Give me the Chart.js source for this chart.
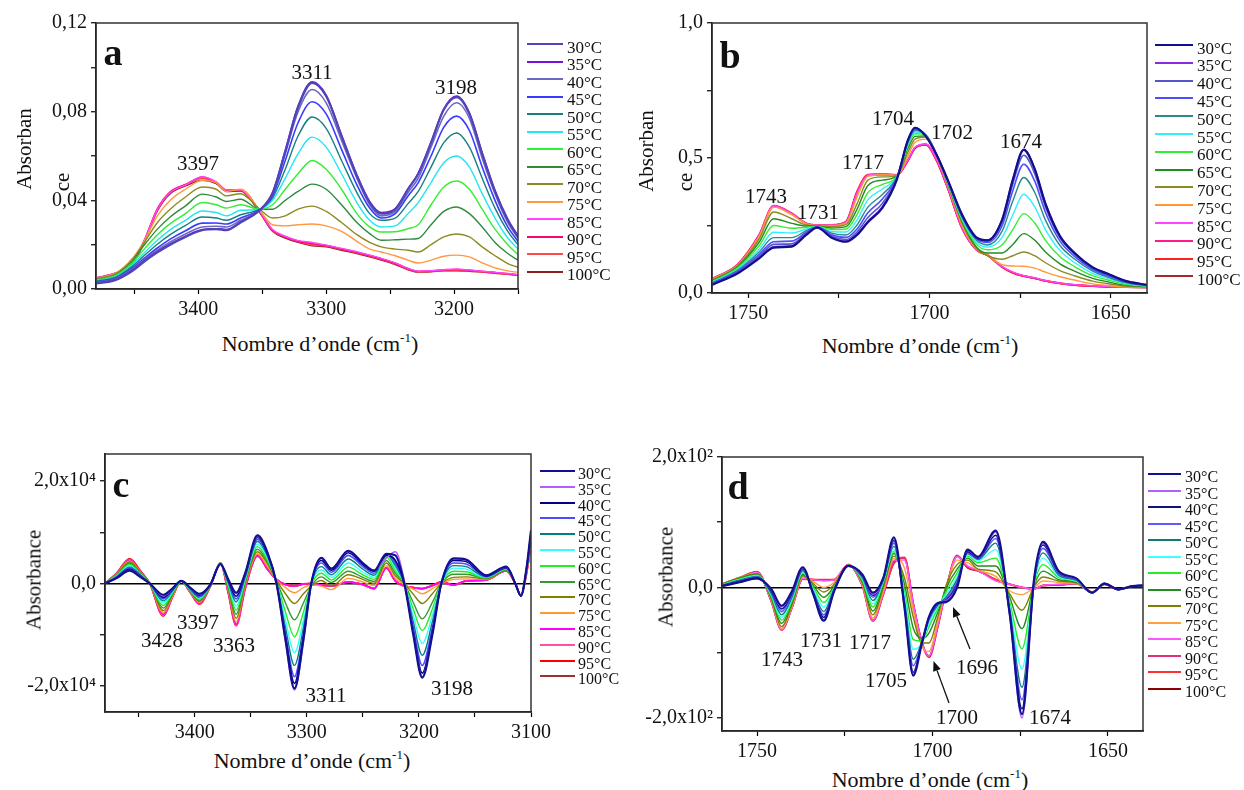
<!DOCTYPE html>
<html><head><meta charset="utf-8">
<script src="https://cdn.jsdelivr.net/npm/chart.js@4.4.1/dist/chart.umd.min.js"></script>
<style>
html,body{margin:0;padding:0;background:#fff;}
body{width:1244px;height:790px;position:relative;overflow:hidden;font-family:'Liberation Serif','Times New Roman',serif;color:#111;}
canvas{position:absolute;}
.t{position:absolute;white-space:nowrap;transform:translate(-50%,-50%);line-height:1;}
.r{transform:translate(-50%,-50%) rotate(-90deg);}
.lg{position:absolute;white-space:nowrap;line-height:1;color:#111;font-family:'Liberation Serif','Times New Roman',serif;}
.sw{position:absolute;height:2px;}
.ttl{font-size:22px;}
.pk{font-size:21px;}
.let{font-size:38px;font-weight:bold;}
sup{font-size:13px;vertical-align:0;position:relative;top:-9px;}
</style></head><body>
<canvas id="ca" width="525" height="325" style="left:0;top:0"></canvas>
<canvas id="cb" width="535" height="325" style="left:620px;top:0"></canvas>
<canvas id="cc" width="560" height="325" style="left:0;top:420px"></canvas>
<canvas id="cd" width="530" height="340" style="left:620px;top:420px"></canvas>

<div class="t let" style="left:113px;top:52px">a</div>
<div class="t let" style="left:730px;top:55px">b</div>
<div class="t let" style="left:121px;top:484px">c</div>
<div class="t let" style="left:738px;top:486px">d</div>

<div class="t r ttl" style="left:24px;top:149px;font-size:21px">Absorban</div>
<div class="t r ttl" style="left:62px;top:182px;font-size:21px">ce</div>
<div class="t r ttl" style="left:646px;top:151px;font-size:21px">Absorban</div>
<div class="t r ttl" style="left:685px;top:182px;font-size:21px">ce</div>
<div class="t r ttl" style="left:34px;top:580px;font-size:21px">Absorbance</div>
<div class="t r ttl" style="left:666px;top:577px;font-size:21px">Absorbance</div>

<div class="t ttl" style="left:320px;top:344px">Nombre d’onde (cm<sup>-1</sup>)</div>
<div class="t ttl" style="left:920px;top:346px">Nombre d’onde (cm<sup>-1</sup>)</div>
<div class="t ttl" style="left:312px;top:761px">Nombre d’onde (cm<sup>-1</sup>)</div>
<div class="t ttl" style="left:930px;top:780px">Nombre d’onde (cm<sup>-1</sup>)</div>

<div class="t pk" style="left:198px;top:163px">3397</div>
<div class="t pk" style="left:312px;top:72px">3311</div>
<div class="t pk" style="left:456px;top:87px">3198</div>

<div class="t pk" style="left:766px;top:196px">1743</div>
<div class="t pk" style="left:818px;top:212px">1731</div>
<div class="t pk" style="left:863px;top:162px">1717</div>
<div class="t pk" style="left:893px;top:118px">1704</div>
<div class="t pk" style="left:952px;top:132px">1702</div>
<div class="t pk" style="left:1021px;top:141px">1674</div>

<div class="t pk" style="left:162px;top:640px">3428</div>
<div class="t pk" style="left:198px;top:622px">3397</div>
<div class="t pk" style="left:234px;top:645px">3363</div>
<div class="t pk" style="left:326px;top:695px">3311</div>
<div class="t pk" style="left:452px;top:688px">3198</div>

<div class="t pk" style="left:782px;top:659px">1743</div>
<div class="t pk" style="left:821px;top:640px">1731</div>
<div class="t pk" style="left:870px;top:642px">1717</div>
<div class="t pk" style="left:886px;top:680px">1705</div>
<div class="t pk" style="left:957px;top:717px">1700</div>
<div class="t pk" style="left:977px;top:667px">1696</div>
<div class="t pk" style="left:1050px;top:717px">1674</div>

<svg width="1244" height="790" style="position:absolute;left:0;top:0;pointer-events:none">
<line x1="970" y1="649" x2="956.8" y2="616.3" stroke="#111" stroke-width="1.3"/>
<polygon points="953,607 960.5,614.8 953,617.8" fill="#111"/>
<line x1="949" y1="703" x2="937" y2="670.4" stroke="#111" stroke-width="1.3"/>
<polygon points="933.5,661 940.7,669 933.2,671.8" fill="#111"/>
</svg>

<script>
const temps = ['30°C','35°C','40°C','45°C','50°C','55°C','60°C','65°C','70°C','75°C','85°C','90°C','95°C','100°C'];

// ---------- Panel a : 3480-3150 cm-1, absorbance ----------
const aWave = [3480,3465,3452,3442,3432,3422,3410,3397,3386,3378,3367,3352,3342,3332,3322,3311,3300,3288,3276,3266,3257,3246,3236,3228,3218,3208,3198,3188,3178,3168,3158,3150];
const a30 = [.0025,.004,.008,.0125,.0165,.020,.0235,.0265,.027,.0265,.030,.0355,.043,.062,.082,.093,.087,.069,.051,.039,.034,.036,.045,.052,.066,.081,.0866,.079,.061,.044,.031,.0235];
const a35 = [.0027,.0042,.0083,.0128,.0168,.0203,.0238,.0268,.0272,.0268,.0302,.0356,.0435,.0625,.0825,.0935,.0875,.0695,.0515,.0395,.0345,.0363,.0452,.0522,.0662,.0812,.087,.0795,.0615,.0445,.0315,.024];
const a40 = [.003,.0045,.0088,.0133,.0175,.0212,.0248,.028,.0283,.028,.031,.0357,.043,.061,.080,.090,.084,.067,.050,.038,.033,.035,.0435,.050,.064,.078,.084,.077,.059,.043,.030,.023];
const a45 = [.0032,.0048,.0093,.014,.0185,.0225,.0263,.0297,.0298,.0293,.032,.0358,.042,.058,.075,.0845,.079,.063,.047,.0365,.032,.034,.042,.048,.060,.073,.078,.0715,.055,.040,.028,.0215];
const a50 = [.0035,.0052,.010,.0152,.0202,.0245,.0287,.0325,.032,.031,.0335,.036,.041,.054,.069,.0776,.0725,.058,.0435,.034,.031,.032,.0385,.044,.055,.066,.0704,.064,.050,.0365,.026,.020];
const a55 = [.0037,.0055,.0107,.0165,.022,.0267,.031,.0352,.0345,.033,.0355,.036,.040,.050,.061,.0685,.064,.052,.039,.031,.028,.0285,.034,.039,.048,.057,.060,.055,.043,.032,.023,.018];
const a60 = [.004,.006,.0115,.0182,.0245,.0295,.034,.039,.038,.0365,.038,.036,.038,.045,.052,.058,.054,.045,.034,.028,.0257,.0258,.0272,.029,.038,.046,.0487,.045,.036,.027,.020,.0155];
const a65 = [.0042,.0063,.0123,.020,.027,.0325,.0375,.0428,.0415,.0395,.0405,.036,.036,.040,.044,.0473,.045,.038,.030,.025,.022,.0222,.0225,.0228,.029,.035,.037,.034,.028,.021,.016,.013];
const a70 = [.0045,.0067,.013,.0212,.030,.036,.0415,.046,.045,.042,.043,.036,.032,.033,.036,.0374,.035,.030,.0245,.021,.019,.018,.0175,.0167,.020,.0235,.0248,.0235,.019,.015,.0115,.0098];
const a75 = [.0047,.007,.0135,.022,.033,.040,.045,.049,.048,.044,.045,.0355,.029,.0285,.029,.0293,.0285,.026,.0215,.018,.0167,.015,.013,.0117,.013,.0148,.0153,.0145,.0118,.0095,.0082,.0075];
const a85 = [.0048,.0072,.011,.0222,.0358,.0435,.047,.0505,.0483,.0447,.0448,.035,.0268,.0238,.0218,.021,.0198,.0183,.0168,.0153,.0138,.0118,.0093,.008,.0082,.0087,.009,.0085,.008,.0075,.007,.0065];
const a90 = [.0049,.0071,.0112,.0221,.036,.0437,.0471,.0505,.0481,.0446,.0448,.035,.0266,.0236,.0216,.0205,.0196,.0181,.0166,.0151,.0136,.0116,.0092,.0079,.0081,.0086,.0088,.0084,.0079,.0074,.0069,.0064];
const a95 = [.005,.007,.011,.022,.036,.0437,.047,.050,.048,.0445,.0447,.035,.0265,.0235,.0215,.020,.0195,.018,.0165,.015,.0135,.0115,.009,.0078,.008,.0085,.0086,.0083,.0078,.0073,.0068,.0063];
const a100 = [.0049,.0069,.0108,.0215,.0352,.043,.0465,.049,.0475,.044,.0442,.0345,.026,.023,.021,.0195,.019,.0175,.016,.0145,.013,.011,.0087,.0076,.0078,.0082,.0082,.008,.0076,.0071,.0066,.0061];
const aXTickVals = [3400,3300,3200];
const aXTickText = ['3400','3300','3200'];
const aYTickVals = [0,0.04,0.08,0.12];
const aYTickText = ['0,00','0,04','0,08','0,12'];

// ---------- Panel b : 1760-1640 cm-1, absorbance ----------
const bWave = [1760,1753,1747,1743,1738,1734,1731,1727,1723,1720,1717,1713,1709,1706,1704,1701,1698,1695,1691,1687,1684,1680,1677,1674,1671,1668,1664,1660,1655,1651,1646,1640];
const b30 = [.030,.072,.128,.168,.172,.215,.242,.205,.190,.215,.262,.315,.42,.565,.612,.58,.51,.42,.29,.205,.195,.27,.42,.53,.46,.33,.21,.148,.095,.072,.045,.030];
const b35 = [.031,.073,.130,.171,.175,.217,.243,.207,.192,.218,.266,.32,.422,.565,.613,.582,.512,.42,.29,.206,.196,.272,.423,.532,.462,.332,.212,.15,.096,.073,.046,.030];
const b40 = [.033,.076,.136,.180,.182,.221,.243,.211,.198,.226,.28,.332,.425,.562,.61,.583,.512,.418,.287,.203,.192,.262,.405,.51,.443,.318,.204,.144,.092,.069,.044,.029];
const b45 = [.035,.080,.143,.190,.192,.225,.244,.216,.206,.237,.297,.348,.428,.56,.607,.584,.512,.416,.284,.2,.187,.248,.38,.477,.415,.298,.192,.136,.087,.065,.042,.028];
const b50 = [.037,.084,.152,.205,.205,.231,.245,.222,.215,.252,.318,.365,.43,.555,.602,.585,.512,.414,.28,.195,.178,.228,.342,.428,.373,.27,.176,.126,.081,.060,.039,.027];
const b55 = [.039,.088,.162,.225,.222,.237,.246,.228,.226,.27,.345,.385,.432,.55,.596,.585,.512,.412,.275,.188,.17,.205,.29,.366,.32,.235,.157,.113,.073,.055,.036,.026];
const b60 = [.042,.092,.175,.25,.24,.243,.247,.235,.237,.29,.372,.402,.433,.543,.59,.585,.512,.41,.27,.18,.16,.178,.235,.294,.26,.195,.134,.098,.064,.049,.033,.025];
const b65 = [.044,.096,.188,.275,.258,.248,.248,.241,.246,.31,.398,.418,.434,.534,.58,.582,.51,.408,.265,.17,.148,.148,.18,.22,.196,.152,.108,.081,.054,.042,.029,.024];
const b70 = [.047,.100,.20,.30,.275,.252,.249,.246,.254,.33,.418,.43,.435,.52,.57,.578,.508,.405,.258,.165,.138,.125,.138,.152,.138,.112,.083,.064,.044,.035,.026,.023];
const b75 = [.05,.103,.21,.318,.29,.256,.25,.25,.26,.355,.432,.438,.436,.505,.558,.57,.505,.40,.25,.162,.14,.105,.1,.099,.092,.077,.06,.048,.034,.028,.023,.022];
const b85 = [.051,.104,.213,.322,.294,.258,.251,.251,.263,.37,.436,.44,.437,.492,.54,.552,.493,.392,.242,.16,.141,.098,.077,.064,.056,.046,.037,.031,.027,.024,.022,.021];
const b90 = [.052,.105,.215,.324,.295,.258,.252,.252,.264,.373,.437,.441,.437,.49,.538,.551,.492,.391,.241,.16,.14,.097,.076,.063,.055,.045,.036,.030,.026,.023,.022,.021];
const b95 = [.052,.105,.215,.322,.295,.258,.252,.252,.265,.375,.438,.44,.437,.49,.537,.55,.49,.39,.24,.16,.14,.097,.075,.063,.055,.045,.036,.030,.026,.023,.022,.021];
const b100 = [.051,.104,.213,.32,.293,.257,.251,.251,.264,.373,.436,.438,.436,.488,.535,.548,.488,.388,.238,.158,.139,.096,.074,.062,.054,.044,.035,.029,.025,.022,.021,.020];
const bXTickVals = [1750,1700,1650];
const bXTickText = ['1750','1700','1650'];
const bYTickVals = [0,0.5,1];
const bYTickText = ['0,0','0,5','1,0'];

// ---------- Panel c : 3480-3100 cm-1, second derivative (units of 1e4) ----------
const cWave = [3480,3470,3458,3448,3440,3428,3420,3412,3404,3396,3386,3377,3370,3363,3355,3344,3335,3327,3319,3311,3303,3296,3287,3278,3263,3250,3240,3229,3221,3213,3205,3197,3188,3180,3169,3158,3140,3122,3114,3109,3104,3100];
const c30 = [0,.1,.25,.12,0,-.22,-.1,.05,-.08,-.2,-.02,.38,.08,-.18,.2,.94,.6,0,-1.1,-2.05,-1.1,0,.5,.29,.64,.4,.25,.58,.55,0,-1,-1.84,-1,0,.49,.47,.16,.33,0,-.24,.3,1.04];
const c35 = [0,.1,.26,.13,0,-.24,-.11,.05,-.09,-.21,-.02,.38,.07,-.2,.19,.92,.6,0,-1.12,-2.08,-1.12,0,.5,.29,.63,.4,.26,.5,.62,.05,-.98,-1.82,-.98,0,.48,.46,.16,.32,0,-.24,.3,1.0];
const c40 = [0,.11,.28,.14,0,-.27,-.12,.05,-.09,-.23,-.02,.38,.05,-.25,.17,.9,.58,0,-1.05,-1.95,-1.05,0,.45,.26,.6,.37,.24,.55,.45,0,-.94,-1.75,-.94,0,.45,.43,.15,.31,0,-.24,.29,.98];
const c45 = [0,.12,.3,.15,0,-.3,-.13,.05,-.1,-.25,-.03,.38,.03,-.3,.15,.86,.56,0,-.98,-1.82,-.98,0,.4,.22,.55,.33,.2,.58,.4,0,-.86,-1.6,-.86,0,.4,.38,.14,.3,0,-.24,.28,.95];
const c50 = [0,.13,.32,.16,0,-.34,-.15,.05,-.11,-.27,-.03,.38,.01,-.36,.12,.82,.53,0,-.86,-1.6,-.86,0,.33,.17,.48,.28,.16,.57,.35,0,-.75,-1.4,-.75,0,.35,.33,.13,.3,0,-.24,.27,.92];
const c55 = [0,.14,.34,.17,0,-.38,-.17,.05,-.12,-.29,-.03,.39,-.02,-.44,.09,.77,.5,.02,-.72,-1.35,-.72,-.01,.27,.12,.4,.22,.12,.58,.3,0,-.63,-1.17,-.63,0,.3,.28,.12,.29,0,-.24,.27,.9];
const c60 = [0,.15,.37,.18,0,-.43,-.19,.05,-.13,-.31,-.04,.39,-.05,-.52,.06,.72,.45,.03,-.56,-1.04,-.56,-.03,.2,.07,.32,.17,.08,.52,.25,0,-.5,-.92,-.5,0,.24,.23,.11,.28,0,-.24,.26,.88];
const c65 = [0,.16,.4,.19,0,-.48,-.21,.05,-.14,-.33,-.04,.39,-.08,-.6,.03,.67,.42,.05,-.38,-.71,-.38,-.05,.13,.02,.24,.12,.04,.45,.2,0,-.37,-.69,-.37,0,.18,.18,.1,.27,0,-.24,.25,.85];
const c70 = [0,.17,.42,.2,0,-.53,-.23,.05,-.15,-.35,-.05,.4,-.11,-.68,0,.62,.38,.06,-.2,-.39,-.2,-.05,.06,-.05,.17,.08,0,.4,.15,0,-.21,-.39,-.2,0,.12,.13,.09,.26,0,-.24,.24,.83];
const c75 = [0,.18,.44,.21,0,-.57,-.25,.05,-.16,-.37,-.05,.4,-.14,-.75,-.04,.58,.33,.07,-.08,-.18,-.08,-.03,-.05,-.12,.1,.03,-.04,.35,.1,-.02,-.11,-.2,-.1,0,.08,.09,.08,.26,0,-.24,.23,.8];
const c85 = [0,.18,.46,.22,0,-.6,-.26,.05,-.17,-.39,-.05,.4,-.17,-.8,-.08,.55,.28,.08,-.02,-.05,-.01,0,-.03,-.05,.03,-.02,-.1,.3,.05,-.04,-.08,-.1,-.04,.02,-.03,.05,.07,.25,0,-.24,.22,.78];
const c90 = [0,.19,.47,.22,0,-.62,-.27,.05,-.17,-.4,-.05,.4,-.18,-.82,-.09,.55,.28,.08,-.02,-.05,-.01,0,-.03,-.05,.03,-.02,-.1,.3,.05,-.05,-.08,-.1,-.04,.02,-.03,.05,.07,.25,0,-.24,.21,.76];
const c95 = [0,.19,.48,.23,0,-.63,-.27,.05,-.17,-.4,-.05,.4,-.18,-.82,-.1,.55,.28,.08,-.02,-.05,-.01,0,-.03,-.05,.03,-.02,-.1,.31,.05,-.05,-.08,-.1,-.04,.03,-.03,.05,.07,.25,0,-.24,.2,.75];
const c100 = [0,.19,.48,.23,0,-.63,-.27,.05,-.17,-.39,-.05,.39,-.18,-.8,-.1,.53,.27,.08,-.02,-.04,-.01,0,-.03,-.05,.03,-.02,-.1,.3,.05,-.05,-.08,-.1,-.04,.03,-.03,.05,.07,.25,0,-.24,.2,.74];
const cXTickVals = [3400,3300,3200,3100];
const cXTickText = ['3400','3300','3200','3100'];
const cYTickVals = [-2,0,2];
const cYTickText = ['-2,0x10⁴','0,0','2,0x10⁴'];

// ---------- Panel d : 1760-1640 cm-1, second derivative (units of 1e2) ----------
const dWave = [1760,1755,1750,1746,1743,1740,1737,1734,1731,1728,1724,1720,1717,1714,1711,1708,1705.5,1703,1701,1698.5,1696,1693,1690,1687,1682,1678,1674.5,1671,1668.5,1664,1659,1654.5,1651,1647,1643,1640];
const d30 = [.02,.08,.14,-.02,-.28,-.05,.31,-.1,-.51,-.05,.33,.2,-.08,.15,.77,-.3,-1.35,-.85,-.45,-.24,-.22,0,.58,.47,.87,-.4,-1.94,.15,.7,.25,.14,-.08,.06,-.03,.02,.03];
const d35 = [.02,.08,.14,-.03,-.3,-.06,.3,-.1,-.5,-.05,.33,.19,-.1,.14,.75,-.3,-1.33,-.85,-.45,-.24,-.2,.02,.57,.46,.85,-.42,-2.0,.13,.68,.24,.13,-.08,.06,-.03,.02,.03];
const d40 = [.03,.09,.15,-.05,-.33,-.08,.29,-.09,-.46,-.04,.33,.18,-.12,.14,.72,-.28,-1.3,-.84,-.46,-.25,-.19,.05,.55,.45,.8,-.4,-1.86,.12,.65,.23,.13,-.08,.06,-.03,.02,.03];
const d45 = [.03,.1,.16,-.07,-.37,-.11,.28,-.08,-.42,-.03,.33,.17,-.15,.13,.68,-.25,-1.2,-.84,-.48,-.26,-.17,.08,.53,.44,.75,-.37,-1.72,.11,.6,.21,.12,-.08,.06,-.03,.02,.03];
const d50 = [.03,.11,.17,-.09,-.42,-.14,.26,-.06,-.37,-.02,.33,.15,-.2,.12,.63,-.2,-1.1,-.83,-.5,-.27,-.14,.12,.52,.43,.68,-.33,-1.53,.1,.53,.19,.11,-.08,.06,-.03,.02,.03];
const d55 = [.04,.12,.18,-.11,-.46,-.17,.24,-.03,-.3,-.01,.33,.13,-.25,.1,.58,-.12,-.95,-.85,-.55,-.29,-.1,.16,.5,.41,.58,-.28,-1.25,.08,.45,.17,.1,-.08,.06,-.03,.02,.03];
const d60 = [.04,.13,.19,-.13,-.5,-.2,.22,0,-.23,0,.34,.11,-.3,.08,.55,-.05,-.8,-.82,-.6,-.32,-.05,.22,.48,.38,.45,-.22,-.94,.06,.35,.15,.09,-.08,.06,-.03,.02,.03];
const d65 = [.05,.14,.2,-.15,-.55,-.23,.2,.03,-.15,.02,.34,.09,-.36,.04,.52,.05,-.62,-.78,-.7,-.38,0,.28,.45,.33,.33,-.15,-.63,.04,.25,.12,.08,-.08,.06,-.03,.02,.03];
const d70 = [.05,.15,.21,-.17,-.6,-.26,.18,.06,-.07,.05,.34,.07,-.42,0,.48,.15,-.45,-.85,-.85,-.45,.05,.35,.42,.28,.24,-.1,-.35,.02,.16,.1,.07,-.08,.06,-.03,.02,.03];
const d75 = [.05,.15,.22,-.18,-.63,-.28,.16,.09,0,.08,.34,.05,-.47,-.05,.45,.3,-.35,-.9,-.98,-.52,.02,.42,.38,.27,.17,-.05,-.11,0,.1,.08,.06,-.07,.06,-.03,.02,.03];
const d85 = [.05,.15,.23,-.2,-.65,-.3,.14,.12,.1,.12,.35,.03,-.5,-.08,.42,.42,-.25,-.85,-1.05,-.58,0,.47,.33,.26,.1,.05,0,-.02,.03,.05,.06,-.07,.05,-.03,.02,.02];
const d90 = [.05,.15,.24,-.2,-.65,-.3,.13,.12,.11,.12,.35,.03,-.51,-.09,.4,.45,-.25,-.85,-1.06,-.6,0,.48,.32,.26,.11,.05,0,-.02,.03,.04,.06,-.07,.05,-.03,.02,.02];
const d95 = [.05,.15,.24,-.2,-.65,-.3,.13,.12,.12,.12,.35,.03,-.51,-.1,.38,.46,-.25,-.85,-1.07,-.6,0,.49,.31,.26,.12,.05,0,-.02,.03,.04,.06,-.07,.05,-.03,.02,.02];
const d100 = [.05,.14,.23,-.2,-.64,-.3,.13,.12,.12,.12,.34,.03,-.5,-.1,.37,.45,-.24,-.84,-1.05,-.6,0,.48,.3,.25,.12,.05,0,-.02,.03,.04,.06,-.07,.05,-.03,.02,.02];
const dXTickVals = [1750,1700,1650];
const dXTickText = ['1750','1700','1650'];
const dYTickVals = [-2,0,2];
const dYTickText = ['-2,0x10²','0,0','2,0x10²'];

// ---------- styles ----------
const colorsA = ['#4f45b8','#7a10d8','#6a6ac0','#3a3aff','#168080','#22e6f0','#33ee33','#2e8b3e','#8b8b22','#ff9940','#ff44ff','#ff0077','#ff4a4a','#8b2020'];
const colorsB = ['#10108b','#8a2be2','#5555cc','#4d4dff','#2a8a8a','#33eeff','#33ee33','#228b22','#8b8b22','#ff9933','#ff44ff','#ff1a8c','#ff2020','#a52a2a'];
const colorsC = ['#101090','#b060ff','#000080','#4d4dff','#008080','#33ffff','#22ee22','#339933','#808000','#ff9933','#ff00ff','#ff4fa0','#ff0000','#a03030'];
const colorsD = ['#101090','#b060ff','#101080','#5a5aff','#107878','#40ffff','#22ee22','#228b22','#808000','#ffa040','#ff55ff','#e0307a','#ff3030','#8b0000'];
const widths = [2.2,1.6,1.6,1.6,1.4,1.4,1.4,1.4,1.4,1.4,1.4,1.6,2,1.4];

const framePlugin = {
  id: 'frame',
  afterDatasetsDraw(chart) {
    const {ctx, chartArea: {left, top, right, bottom}} = chart;
    ctx.save();
    ctx.strokeStyle = '#333';
    ctx.lineWidth = 1.5;
    ctx.strokeRect(left, top, right - left, bottom - top);
    ctx.restore();
  }
};

function labelFor(vals, texts) {
  return function(v) {
    for (let i = 0; i < vals.length; i++) if (Math.abs(vals[i] - v) < 1e-6) return texts[i];
    return '';
  };
}

function makeChart(id, xs, series, colors, cfg) {
  const datasets = series.map((arr, i) => ({
    label: temps[i],
    data: arr.map((v, j) => ({x: xs[j], y: v})),
    borderColor: colors[i],
    borderWidth: widths[i],
    pointRadius: 0,
    fill: false,
    cubicInterpolationMode: 'monotone'
  }));
  const font = {family: "'Liberation Serif', 'Times New Roman', serif", size: 20};
  new Chart(document.getElementById(id), {
    type: 'line',
    data: {datasets},
    plugins: [framePlugin],
    options: {
      responsive: false, animation: false, devicePixelRatio: 1,
      layout: {padding: {top: cfg.pt, right: cfg.pr, left: 0, bottom: 0}},
      plugins: {legend: {display: false}, tooltip: {enabled: false}},
      elements: {line: {borderJoinStyle: 'round'}},
      scales: {
        x: {
          type: 'linear', reverse: true, min: cfg.xmin, max: cfg.xmax,
          afterFit(s) { s.height = cfg.xh; },
          border: {display: true, color: '#000', width: 1.5},
          grid: {drawOnChartArea: false, drawTicks: true, tickLength: 5, tickColor: '#000', tickWidth: 1.2},
          ticks: {stepSize: cfg.xstep, includeBounds: false, autoSkip: false, maxRotation: 0, minRotation: 0,
                  padding: 4, color: '#111', font, callback: labelFor(cfg.xv, cfg.xt)}
        },
        y: {
          type: 'linear', min: cfg.ymin, max: cfg.ymax,
          afterFit(s) { s.width = cfg.yw; },
          border: {display: true, color: '#000', width: 1.5},
          grid: {drawOnChartArea: cfg.zero, drawTicks: true, tickLength: 5, tickColor: '#000', tickWidth: 1.2,
                 color: (c) => (c.tick && Math.abs(c.tick.value) < 1e-9) ? '#000' : 'rgba(0,0,0,0)', lineWidth: 1.5},
          ticks: {stepSize: cfg.ystep, includeBounds: false, autoSkip: false, padding: 4, color: '#111', font,
                  callback: labelFor(cfg.yv, cfg.yt)}
        }
      }
    }
  });
}

makeChart('ca', aWave, [a30,a35,a40,a45,a50,a55,a60,a65,a70,a75,a85,a90,a95,a100], colorsA,
  {pt: 23, pr: 7, xh: 36, yw: 96, xmin: 3150, xmax: 3480, xstep: 50, ymin: 0, ymax: 0.12, ystep: 0.02,
   xv: aXTickVals, xt: aXTickText, yv: aYTickVals, yt: aYTickText, zero: false});
makeChart('cb', bWave, [b30,b35,b40,b45,b50,b55,b60,b65,b70,b75,b85,b90,b95,b100], colorsB,
  {pt: 23, pr: 8, xh: 32, yw: 92, xmin: 1640, xmax: 1760, xstep: 25, ymin: 0, ymax: 1, ystep: 0.25,
   xv: bXTickVals, xt: bXTickText, yv: bYTickVals, yt: bYTickText, zero: false});
makeChart('cc', cWave, [c30,c35,c40,c45,c50,c55,c60,c65,c70,c75,c85,c90,c95,c100], colorsC,
  {pt: 34, pr: 29, xh: 33, yw: 105, xmin: 3100, xmax: 3480, xstep: 50, ymin: -2.51, ymax: 2.53, ystep: 1,
   xv: cXTickVals, xt: cXTickText, yv: cYTickVals, yt: cYTickText, zero: true});
makeChart('cd', dWave, [d30,d35,d40,d45,d50,d55,d60,d65,d70,d75,d85,d90,d95,d100], colorsD,
  {pt: 37, pr: 7, xh: 29, yw: 102, xmin: 1640, xmax: 1760, xstep: 25, ymin: -2.2, ymax: 2.0, ystep: 1,
   xv: dXTickVals, xt: dXTickText, yv: dYTickVals, yt: dYTickText, zero: true});

// ---------- legends (HTML text) ----------
function buildLegend(colors, x1, x2, tx, y0, dy, fs) {
  temps.forEach((t, i) => {
    const y = y0 + i * dy;
    const sw = document.createElement('div');
    sw.className = 'sw';
    sw.style.cssText = `left:${x1}px;top:${(y - 1).toFixed(1)}px;width:${x2 - x1}px;background:${colors[i]}`;
    document.body.appendChild(sw);
    const lb = document.createElement('div');
    lb.className = 'lg';
    lb.textContent = t;
    lb.style.cssText = `left:${tx}px;top:${(y + 3 - fs * 0.5).toFixed(1)}px;font-size:${fs}px`;
    document.body.appendChild(lb);
  });
}
buildLegend(colorsA, 527, 563, 567, 44, 17.5, 17);
buildLegend(colorsB, 1155, 1193, 1197, 45, 17.8, 17);
buildLegend(colorsC, 540, 575, 578, 471, 15.8, 16);
buildLegend(colorsD, 1148, 1181, 1185, 474, 16.5, 16);
</script>
</body></html>
